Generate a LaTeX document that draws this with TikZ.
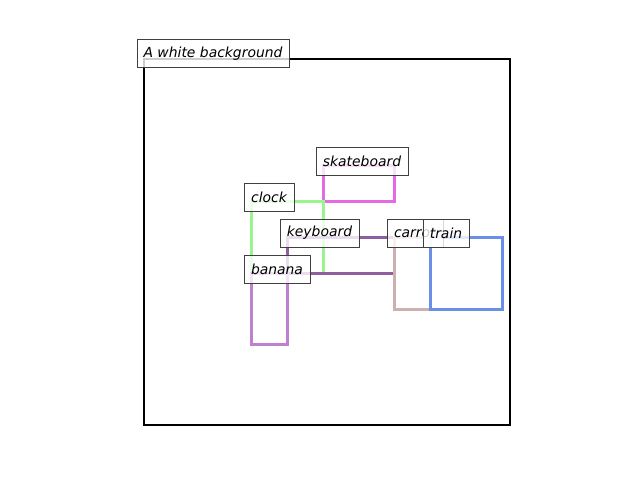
\documentclass[tikz,border=0pt]{standalone}
\usepackage{fontspec}
\setmainfont{DejaVu Sans}
\definecolor{skatecol}{HTML}{E36AE3}
\definecolor{clockcol}{HTML}{98F590}
\definecolor{keybcol}{HTML}{8E5E9E}
\definecolor{bananacol}{HTML}{C080D0}
\definecolor{carrotcol}{HTML}{CFAFAF}
\definecolor{traincol}{HTML}{6A8FE6}
\begin{document}
\begin{tikzpicture}[x=1pt,y=-1pt,
		box/.style={line width=3pt},
		lbl/.style={draw=black!75, line width=1pt, fill=white, fill opacity=.8, text opacity=1,
			font=\fontsize{13.9}{16}\selectfont\itshape, inner sep=0pt, minimum height=28}]
		\useasboundingbox (0,0) rectangle (640,480);
		\draw[line width=2.2pt] (144,59) rectangle (510,425);
		\draw[box, skatecol] (323,165) rectangle (394,201);
		\draw[box, clockcol] (251,201) rectangle (323,273);
		\draw[box, keybcol] (287,237) rectangle (394,273);
		\draw[box, bananacol] (251,273) rectangle (287,344);
		\draw[box, carrotcol] (394,237) rectangle (430,309);
		\draw[box, traincol] (430,237) rectangle (502,309);
		\node[lbl, minimum width=152] (bg) at (213,53.5) {A white background};
		\node[lbl, minimum width=92] (skateboard) at (362,161) {skateboard};
		\node[lbl, minimum width=50] (clock) at (269,197) {clock};
		\node[lbl, minimum width=79] (keyboard) at (319.5,233) {keyboard};
		\node[lbl, minimum width=66] (banana) at (277,269) {banana};
		\node[lbl, minimum width=56, text width=42, align=left] (carrot) at (415,233) {carrot};
		\node[lbl, minimum width=46] (train) at (446,233) {train};
	\end{tikzpicture}
\end{document}
